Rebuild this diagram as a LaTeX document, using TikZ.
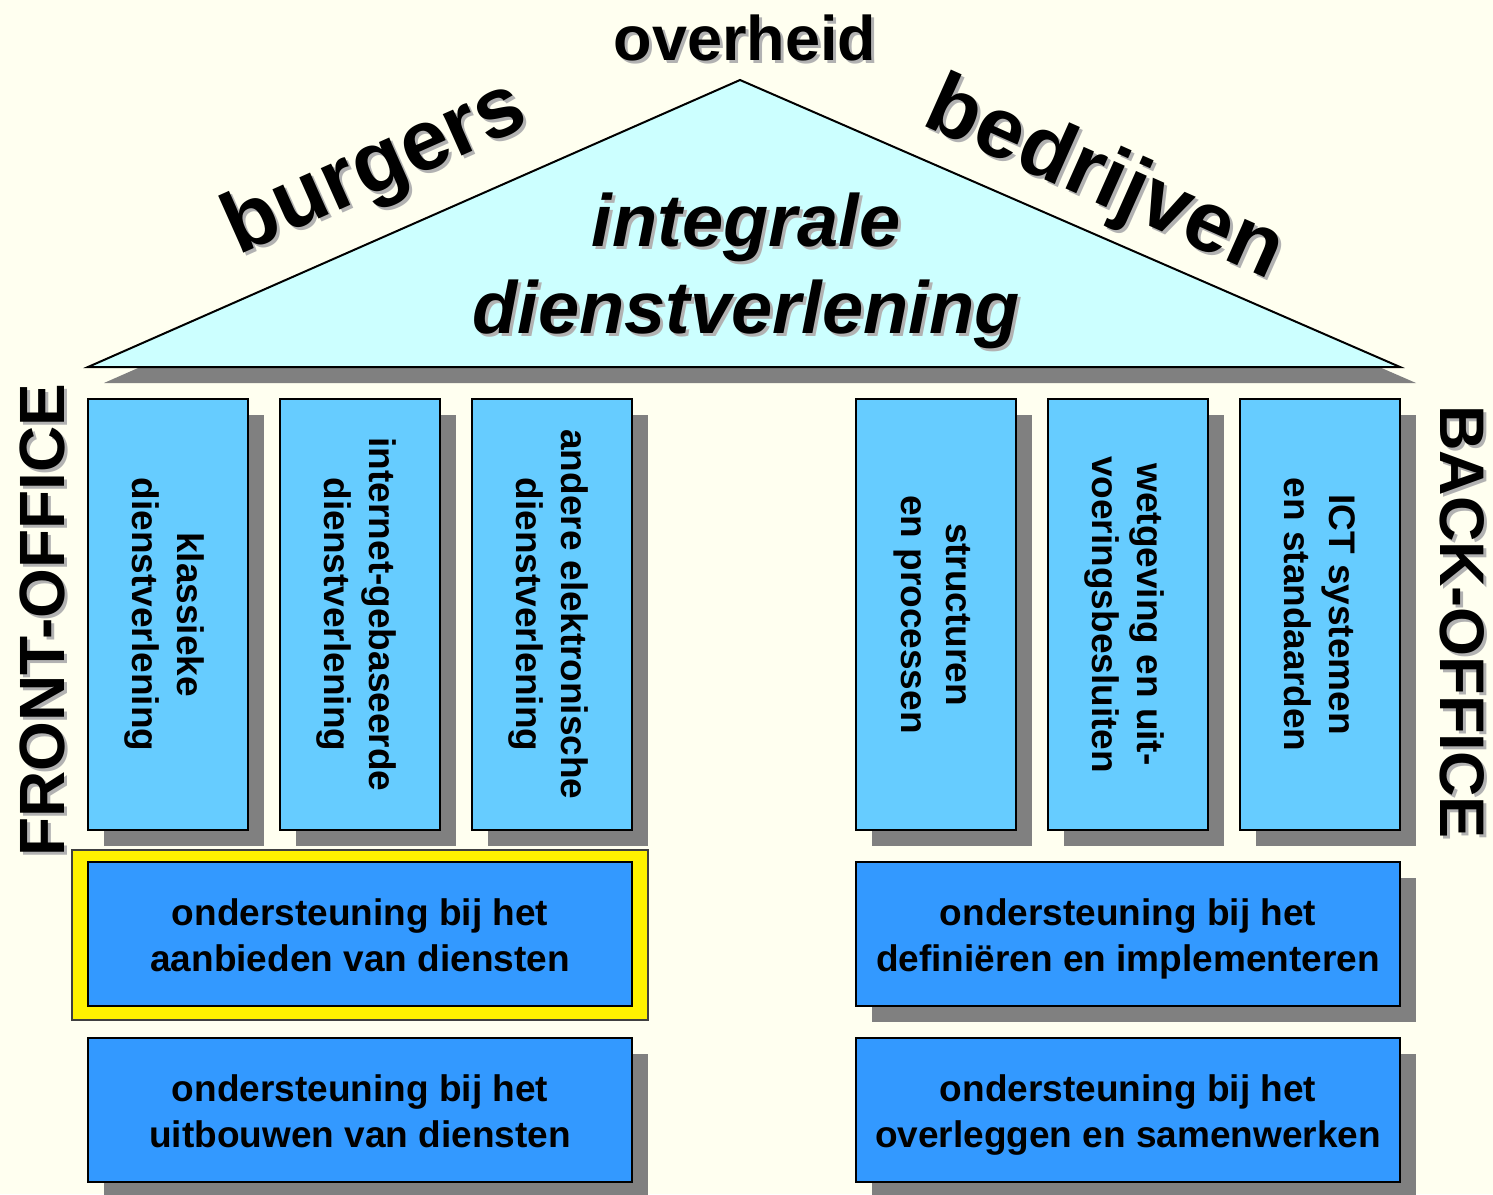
\documentclass[tikz,border=0pt]{standalone}
\usepackage{fontspec}
\setmainfont{Liberation Sans}
\usetikzlibrary{shadows,calc}

\definecolor{paper}{RGB}{255,255,240}
\definecolor{roof}{RGB}{204,255,255}
\definecolor{pillarblue}{RGB}{102,204,255}
\definecolor{boxblue}{RGB}{51,153,255}
\definecolor{castgray}{RGB}{128,128,128}
\definecolor{lettergray}{RGB}{178,178,178}

% a heading printed twice: a light grey copy slightly down-right, then the black text
\newcommand\castlabel[4]{%
  \node[lettershade,#3] (#1-shade) at ($(#2)+(3,3)$) {#4};
  \node[#3] (#1) at (#2) {#4};}

\begin{document}
\begin{tikzpicture}[x=1pt,y=-1pt,
  castshadow/.style={drop shadow={shadow xshift=16pt,shadow yshift=-16pt,
      fill=castgray,opacity=1}},
  % a fixed last-line depth keeps every two-line text at the same baselines
  lastdepth/.style={execute at end node={\rule[-#1pt]{0pt}{#1pt}}},
  pillar/.style={draw=black,line width=2pt,fill=pillarblue,
      minimum width=160pt,minimum height=431pt,inner sep=0pt,castshadow},
  pillartext/.style={rotate=-90,align=center,inner sep=0pt,lastdepth=8,
      font=\fontsize{37pt}{45pt}\selectfont\bfseries},
  support/.style={draw=black,line width=2pt,fill=boxblue,
      minimum width=544pt,minimum height=144pt,inner sep=0pt},
  supporttext/.style={align=center,inner sep=0pt,lastdepth=8,
      font=\fontsize{37pt}{45.5pt}\selectfont\bfseries},
  frame/.style={draw=black!75,line width=1.2pt,fill=yellow,
      minimum width=576pt,minimum height=170pt,inner sep=0pt},
  heading/.style={inner sep=0pt,font=\fontsize{63pt}{63pt}\selectfont\bfseries},
  sideword/.style={inner sep=0pt,font=\fontsize{64pt}{64pt}\selectfont\bfseries},
  bigword/.style={inner sep=0pt,font=\fontsize{86pt}{86pt}\selectfont\bfseries},
  slogan/.style={inner sep=0pt,font=\fontsize{74pt}{74pt}\selectfont\bfseries\itshape},
  lettershade/.style={text=lettergray}]

% page
\fill[paper] (0,0) rectangle (1493,1194);
\useasboundingbox (0,0) rectangle (1493,1194);

% roof
\coordinate (apex) at (740,80);
\coordinate (eaveL) at (88,367);
\coordinate (eaveR) at (1400,367);
\filldraw[fill=roof,draw=black,line width=2pt,line join=miter,castshadow]
  (apex) -- (eaveL) -- (eaveR) -- cycle;

% front-office pillars
\node[pillar] (p1) at (168,614.5) {};
\node[pillar] (p2) at (360,614.5) {};
\node[pillar] (p3) at (552,614.5) {};
% back-office pillars
\node[pillar] (p4) at (936,614.5) {};
\node[pillar] (p5) at (1128,614.5) {};
\node[pillar] (p6) at (1320,614.5) {};

\node[pillartext] (t1) at ($(p1)+(-4,0)$) {klassieke\\dienstverlening};
\node[pillartext] (t2) at ($(p2)+(-4,0)$) {internet-gebaseerde\\dienstverlening};
\node[pillartext] (t3) at ($(p3)+(-4,0)$) {andere elektronische\\dienstverlening};
\node[pillartext] (t4) at ($(p4)+(-4,0)$) {structuren\\en processen};
\node[pillartext] (t5) at ($(p5)+(-4,0)$) {wetgeving en uit-\\voeringsbesluiten};
\node[pillartext] (t6) at ($(p6)+(-4,0)$) {ICT systemen\\en standaarden};

% foundation blocks
\node[frame] (hl) at (360,935) {};
\node[support] (s1) at (360,934) {};
\node[support,castshadow] (s2) at (360,1110) {};
\node[support,castshadow] (s3) at (1128,934) {};
\node[support,castshadow] (s4) at (1128,1110) {};

\node[supporttext] (s1-text) at ($(s1)+(0,5)$) {ondersteuning bij het\\aanbieden van diensten};
\node[supporttext] (s2-text) at ($(s2)+(0,5)$) {ondersteuning bij het\\uitbouwen van diensten};
\node[supporttext] (s3-text) at ($(s3)+(0,5)$) {ondersteuning bij het\\definiëren en implementeren};
\node[supporttext] (s4-text) at ($(s4)+(0,5)$) {ondersteuning bij het\\overleggen en samenwerken};

% headings
\castlabel{overheid}{745,38}{heading}{overheid}
\castlabel{burgers}{376,170}{bigword,rotate=24}{burgers}
\castlabel{bedrijven}{1104,182}{bigword,rotate=-24}{bedrijven}
\castlabel{integrale}{746,227}{slogan}{integrale}
\castlabel{dienst}{746,314}{slogan}{dienstverlening}
\castlabel{front}{42,620}{sideword,rotate=90}{FRONT-OFFICE}
\castlabel{back}{1462,622}{heading,rotate=-90}{BACK-OFFICE}
\end{tikzpicture}
\end{document}
